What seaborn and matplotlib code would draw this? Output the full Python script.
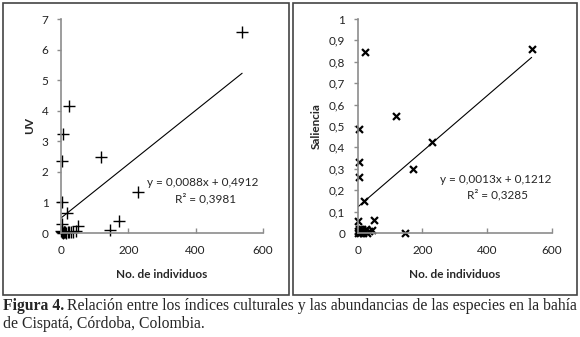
import numpy as np
import pandas as pd
import matplotlib
matplotlib.use("Agg")
import matplotlib.pyplot as plt
from matplotlib.patches import Rectangle
import seaborn as sns

# data (same species in both panels)
individuos = [538, 23, 118, 229, 172, 146, 50, 5, 3, 4, 18, 2,
              1, 2, 4, 6, 8, 10, 12, 15, 20, 25, 30, 35, 45]
uv = [6.59, 4.16, 2.48, 1.33, 0.38, 0.10, 0.22, 3.24, 2.37, 1.00, 0.67, 0.28,
      0.05, 0.02, 0.03, 0.01, 0.02, 0.04, 0.02, 0.01, 0.03, 0.02, 0.04, 0.02, 0.05]
saliencia = [0.858, 0.845, 0.546, 0.425, 0.299, 0.0, 0.062, 0.487, 0.33, 0.26, 0.151, 0.056,
             0.01, 0.0, 0.02, 0.01, 0.0, 0.01, 0.02, 0.0, 0.01, 0.02, 0.0, 0.01, 0.016]

fit_uv = (0.0088, 0.4912)
fit_sal = (0.0013, 0.1212)
eq_uv = ["y = 0,0088x + 0,4912", "R\u00b2 = 0,3981"]
eq_sal = ["y = 0,0013x + 0,1212", "R\u00b2 = 0,3285"]

uv_ticks = [0, 1, 2, 3, 4, 5, 6, 7]
sal_ticks = [0, 0.1, 0.2, 0.3, 0.4, 0.5, 0.6, 0.7, 0.8, 0.9, 1]
x_ticks = [0, 200, 400, 600]

df = pd.DataFrame({"n": individuos, "uv": uv, "sal": saliencia})

sns.set_style("white")
plt.rcParams['font.family'] = ['Lato', 'DejaVu Sans']

W, H = 580, 337
fig = plt.figure(figsize=(W / 100, H / 100), dpi=100)

# panel frames
for x0, x1 in [(3, 289), (293, 577)]:
    fig.patches.append(Rectangle((x0 / W, 1 - 295 / H), (x1 - x0) / W, 292 / H,
                                 transform=fig.transFigure, fill=False,
                                 edgecolor='#444444', lw=1.2))

ax1 = fig.add_axes([61 / W, 1 - 233 / H, 202 / W, 214 / H])
ax2 = fig.add_axes([357.7 / W, 1 - 233 / H, 194 / W, 214 / H])


def style(ax, yticks, ylabels, ylab):
    ax.set_xlim(0, 600)
    ax.set_ylim(0, yticks[-1])
    ax.set_xticks(x_ticks)
    ax.set_xticklabels([str(t) for t in x_ticks])
    ax.set_yticks(yticks)
    ax.set_yticklabels(ylabels)
    for s in ['top', 'right']:
        ax.spines[s].set_visible(False)
    for s in ['left', 'bottom']:
        ax.spines[s].set_color('#8c8c8c')
        ax.spines[s].set_linewidth(1.2)
    ax.tick_params(axis='x', direction='in', length=3.5, width=1, color='#8c8c8c',
                   labelsize=8.5, labelcolor='#222222', pad=9, bottom=True)
    ax.tick_params(axis='y', direction='out', length=3, width=1, color='#8c8c8c',
                   labelsize=8.5, labelcolor='#222222', pad=6, left=True)
    ax.set_xlabel("No. de individuos", fontsize=8.5, fontweight='bold', labelpad=9)
    ax.set_ylabel(ylab, fontsize=8.5, fontweight='bold', labelpad=5)
    ax.patch.set_alpha(0)


# left: UV
sns.scatterplot(data=df, x="n", y="uv", ax=ax1, marker='+', s=80, color='black',
                linewidth=1.0, clip_on=False, legend=False)
xl = np.array([min(individuos), max(individuos)])
sns.lineplot(x=xl, y=fit_uv[0] * xl + fit_uv[1], ax=ax1, color='black', lw=0.8)
style(ax1, uv_ticks, [str(t) for t in uv_ticks], "UV")
ax1.text(422, 1.64, eq_uv[0], ha='center', va='center', fontsize=8.5)
ax1.text(430, 1.11, eq_uv[1], ha='center', va='center', fontsize=8.5)

# right: Saliencia
sns.scatterplot(data=df, x="n", y="sal", ax=ax2, marker='x', s=25, color='black',
                linewidth=1.6, clip_on=False, legend=False)
sns.lineplot(x=xl, y=fit_sal[0] * xl + fit_sal[1], ax=ax2, color='black', lw=0.8)
sal_labels = ["0" if t == 0 else ("1" if t == 1 else ("%.1f" % t).replace('.', ',')) for t in sal_ticks]
style(ax2, sal_ticks, sal_labels, "Saliencia")
ax2.text(428, 0.252, eq_sal[0], ha='center', va='center', fontsize=8.5)
ax2.text(432, 0.178, eq_sal[1], ha='center', va='center', fontsize=8.5)

# caption
serif = ['Liberation Serif', 'DejaVu Serif']
fs = 11.3
fig.canvas.draw()
r = fig.canvas.get_renderer()
t0 = fig.text(3 / W, 1 - 306 / H, "Figura 4.", fontsize=fs, fontweight='bold',
              family=serif, va='center', ha='left')
bb = t0.get_window_extent(renderer=r)
fig.text((bb.x1 + 3) / W, 1 - 306 / H,
         "Relación entre los índices culturales y las abundancias de las especies en la bahía",
         fontsize=fs, family=serif, va='center', ha='left')
fig.text(3 / W, 1 - 324 / H, "de Cispatá, Córdoba, Colombia.", fontsize=fs,
         family=serif, va='center', ha='left')

fig.savefig("out.png", dpi=100)
